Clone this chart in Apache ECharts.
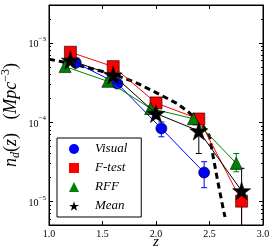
<!DOCTYPE html>
<html>
<head>
<meta charset="utf-8">
<script src="https://cdn.jsdelivr.net/npm/echarts@6/dist/echarts.min.js"></script>
<style>html,body{margin:0;padding:0;background:#fff}#c{width:274px;height:251px}</style>
</head>
<body>
<div id="c"></div>
<script>
// ---- data ----
const xTicks = [1.0, 1.5, 2.0, 2.5, 3.0];
const visualX = [1.25, 1.64, 2.05, 2.45];
const visualY = [5.6e-4, 3.05e-4, 8.3e-5, 2.3e-5];
const visualLo = [5.1e-4, 2.8e-4, 6.5e-5, 1.48e-5];
const visualHi = [6.1e-4, 3.3e-4, 1.0e-4, 3.15e-5];

const ftestX = [1.2, 1.6, 2.0, 2.4, 2.8];
const ftestY = [7.6e-4, 5.0e-4, 1.74e-4, 1.09e-4, 1.0e-5];
const ftestLo = [7.0e-4, 4.6e-4, 1.5e-4, 9.5e-5, 1.0e-7];
const ftestHi = [8.2e-4, 5.4e-4, 1.95e-4, 1.2e-4, 1.1e-5];

const rffX = [1.15, 1.55, 1.95, 2.35, 2.75];
const rffY = [5.0e-4, 3.26e-4, 1.48e-4, 1.1e-4, 3.0e-5];
const rffLo = [4.7e-4, 3.0e-4, 1.35e-4, 1.0e-4, 2.35e-5];
const rffHi = [5.4e-4, 3.5e-4, 1.6e-4, 1.2e-4, 4.0e-5];

const meanX = [1.2, 1.6, 2.0, 2.4, 2.8];
const meanY = [6.0e-4, 3.9e-4, 1.28e-4, 7.7e-5, 1.35e-5];
const meanLo = [5.4e-4, 3.4e-4, 1.1e-4, 4.0e-5, 1.0e-7];
const meanHi = [6.6e-4, 4.4e-4, 1.5e-4, 1.05e-4, 2.6e-5];

const modelX = [1.0, 1.2, 1.4, 1.6, 1.8, 2.0, 2.2, 2.3, 2.4, 2.45, 2.5, 2.535, 2.58, 2.63, 2.645];
const modelY = [6.2e-4, 5.5e-4, 4.7e-4, 4.0e-4, 3.2e-4, 2.35e-4, 1.7e-4, 1.35e-4, 1.0e-4, 8.5e-5, 6.6e-5, 3.6e-5, 1.7e-5, 7.8e-6, 6.3e-6];

const minorTickVals = [6e-6, 7e-6, 8e-6, 9e-6, 2e-5, 3e-5, 4e-5, 5e-5, 6e-5, 7e-5, 8e-5, 9e-5,
  2e-4, 3e-4, 4e-4, 5e-4, 6e-4, 7e-4, 8e-4, 9e-4, 2e-3];

const STAR = 'path://M0,-1 L0.2245,-0.309 L0.951,-0.309 L0.3633,0.118 L0.5878,0.809 L0,0.382 L-0.5878,0.809 L-0.3633,0.118 L-0.951,-0.309 L-0.2245,-0.309 Z';
const SERIF = '"Liberation Serif", "DejaVu Serif", serif';

function zip(xs, ys) { return xs.map((x, i) => [x, ys[i]]); }
function zipErr(xs, lo, hi) { return xs.map((x, i) => [x, lo[i], hi[i]]); }

function errSeries(name, color, xs, lo, hi) {
  return {
    type: 'custom', name: name + '_err', z: 2, clip: true, silent: true,
    data: zipErr(xs, lo, hi),
    encode: { x: 0, y: [1, 2] },
    renderItem: function (params, api) {
      const p1 = api.coord([api.value(0), api.value(1)]);
      const p2 = api.coord([api.value(0), api.value(2)]);
      const cw = 3;
      const st = { stroke: color, lineWidth: 1 };
      return { type: 'group', children: [
        { type: 'line', shape: { x1: p1[0], y1: p1[1], x2: p2[0], y2: p2[1] }, style: st },
        { type: 'line', shape: { x1: p1[0] - cw, y1: p1[1], x2: p1[0] + cw, y2: p1[1] }, style: st },
        { type: 'line', shape: { x1: p2[0] - cw, y1: p2[1], x2: p2[0] + cw, y2: p2[1] }, style: st }
      ] };
    }
  };
}

function lineSeries(name, color, xs, ys, symbol, size, z) {
  return {
    type: 'line', name: name, z: z, data: zip(xs, ys),
    symbol: symbol, symbolSize: size, showSymbol: true, showAllSymbol: true,
    lineStyle: { color: color, width: 1 },
    itemStyle: { color: color, borderColor: '#000', borderWidth: 0.6 },
    emphasis: { disabled: true }
  };
}

const chart = echarts.init(document.getElementById('c'), null, { renderer: 'canvas' });
const axisLabelY = {
  fontFamily: SERIF, color: '#000', margin: 3, showMinLabel: false, showMaxLabel: false,
  formatter: function (v) {
    const e = Math.round(Math.log10(v));
    if (Math.abs(Math.log10(v) - e) > 1e-6) return '';
    return '{b|10}{s|\u2212' + (-e) + '}';
  },
  rich: {
    b: { fontFamily: SERIF, fontSize: 10, color: '#000', lineHeight: 14, verticalAlign: 'bottom' },
    s: { fontFamily: SERIF, fontSize: 7, color: '#000', lineHeight: 14, verticalAlign: 'top' }
  }
};

chart.setOption({
  animation: false,
  grid: { left: 49, right: 11, top: 5, bottom: 26, show: true, borderColor: '#000', borderWidth: 1, backgroundColor: 'transparent', outerBoundsMode: 'none', containLabel: false },
  legend: {
    orient: 'vertical', left: 57, top: 138,
    backgroundColor: '#fff', borderColor: '#000', borderWidth: 1,
    padding: [4, 14, 4, 12], itemGap: 5, itemWidth: 10, itemHeight: 10,
    itemStyle: { borderWidth: 0 }, lineStyle: { width: 0, opacity: 0 },
    formatter: function (name) { return '{t|' + name + '}'; },
    textStyle: {
      fontFamily: SERIF, fontStyle: 'italic', fontSize: 13, color: '#000', lineHeight: 14,
      rich: { t: { fontFamily: SERIF, fontStyle: 'italic', fontSize: 13, color: '#000', lineHeight: 14, padding: [0, 0, 0, 11] } }
    },
    data: [
      { name: 'Visual', icon: 'circle' },
      { name: 'F-test', icon: 'rect' },
      { name: 'RFF', icon: 'triangle' },
      { name: 'Mean', icon: STAR }
    ],
    selectedMode: false
  },
  xAxis: [{
    type: 'value', min: 1.0, max: 3.0, interval: 0.5,
    axisLine: { lineStyle: { color: '#000' } },
    axisTick: { inside: true, length: 4, lineStyle: { color: '#000' } },
    splitLine: { show: false },
    axisLabel: { fontFamily: SERIF, fontSize: 10, color: '#000', margin: 4, formatter: v => v.toFixed(1) },
    name: 'z', nameLocation: 'middle', nameGap: 10, nameMoveOverlap: false,
    nameTextStyle: { fontFamily: SERIF, fontStyle: 'italic', fontSize: 15, color: '#000' }
  }, {
    type: 'value', position: 'top', min: 1.0, max: 3.0, interval: 0.5,
    axisLine: { lineStyle: { color: '#000' } },
    axisTick: { inside: true, length: 4, lineStyle: { color: '#000' } },
    splitLine: { show: false }, axisLabel: { show: false }
  }],
  yAxis: [{
    type: 'log', logBase: 10, min: 5e-6, max: 3e-3,
    axisLine: { lineStyle: { color: '#000' } },
    axisTick: { inside: true, length: 4, lineStyle: { color: '#000' } },
    splitLine: { show: false },
    axisLabel: axisLabelY,
    name: '{i|n}{sub|d}{r|(}{i|z}{r|)   (}{i|Mpc}{sup|\u22123}{r|)}',
    nameLocation: 'middle', nameGap: 27, nameRotate: 90, nameMoveOverlap: false,
    nameTextStyle: {
      rich: {
        i: { fontFamily: SERIF, fontStyle: 'italic', fontSize: 18, color: '#000', lineHeight: 22, verticalAlign: 'middle' },
        r: { fontFamily: SERIF, fontSize: 18, color: '#000', lineHeight: 22, verticalAlign: 'middle' },
        sub: { fontFamily: SERIF, fontStyle: 'italic', fontSize: 12, color: '#000', lineHeight: 22, verticalAlign: 'bottom' },
        sup: { fontFamily: SERIF, fontSize: 12, color: '#000', lineHeight: 22, verticalAlign: 'top' }
      }
    }
  }, {
    type: 'log', logBase: 10, min: 5e-6, max: 3e-3, position: 'right',
    axisLine: { lineStyle: { color: '#000' } },
    axisTick: { inside: true, length: 4, lineStyle: { color: '#000' } },
    splitLine: { show: false }, axisLabel: { show: false }
  }],
  series: [
    {
      type: 'custom', name: 'minorTicks', z: 1, silent: true,
      data: minorTickVals.map(v => [1.0, v]),
      encode: { x: 0, y: 1 },
      renderItem: function (params, api) {
        const v = api.value(1);
        const pl = api.coord([1.0, v]);
        const pr = api.coord([3.0, v]);
        const st = { stroke: '#000', lineWidth: 1 };
        return { type: 'group', children: [
          { type: 'line', shape: { x1: pl[0], y1: Math.round(pl[1]) + 0.5, x2: pl[0] + 2, y2: Math.round(pl[1]) + 0.5 }, style: st },
          { type: 'line', shape: { x1: pr[0] - 2, y1: Math.round(pr[1]) + 0.5, x2: pr[0], y2: Math.round(pr[1]) + 0.5 }, style: st }
        ] };
      }
    },
    {
      type: 'line', name: 'model', z: 2, data: zip(modelX, modelY), symbol: 'none',
      lineStyle: { color: '#000', width: 3, type: [6, 4] }, emphasis: { disabled: true }
    },
    errSeries('Visual', '#0000ff', visualX, visualLo, visualHi),
    errSeries('F-test', '#ff0000', ftestX, ftestLo, ftestHi),
    errSeries('RFF', '#008000', rffX, rffLo, rffHi),
    errSeries('Mean', '#000000', meanX, meanLo, meanHi),
    lineSeries('Visual', '#0000ff', visualX, visualY, 'circle', 11, 3),
    lineSeries('F-test', '#ff0000', ftestX, ftestY, 'rect', 12, 4),
    lineSeries('RFF', '#008000', rffX, rffY, 'triangle', 12, 5),
    lineSeries('Mean', '#000000', meanX, meanY, STAR, 18, 6)
  ]
});
</script>
</body>
</html>
